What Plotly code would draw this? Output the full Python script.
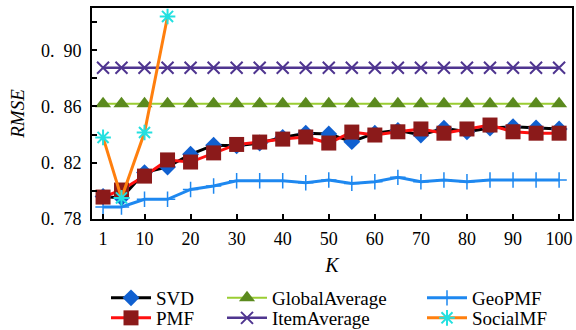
import plotly.graph_objects as go

K = [1, 5, 10, 15, 20, 25, 30, 35, 40, 45, 50, 55, 60, 65, 70, 75, 80, 85, 90, 95, 100]

svd = [0.796, 0.795, 0.813, 0.817, 0.826, 0.8325, 0.832, 0.834, 0.838, 0.841, 0.8405,
       0.835, 0.841, 0.843, 0.8397, 0.8445, 0.842, 0.8447, 0.8456, 0.8447, 0.844]
pmf = [0.7956, 0.8006, 0.8105, 0.822, 0.8205, 0.827, 0.833, 0.8347, 0.8368, 0.8383, 0.834,
       0.8418, 0.8397, 0.842, 0.844, 0.841, 0.844, 0.8468, 0.842, 0.841, 0.841]
global_avg = [0.862] * len(K)
item_avg = [0.8875] * len(K)
geopmf = [0.7885, 0.7885, 0.794, 0.794, 0.801, 0.8035, 0.8072, 0.8072, 0.8072, 0.8058, 0.8077,
          0.8053, 0.8065, 0.8096, 0.8065, 0.8077, 0.8065, 0.8077, 0.8077, 0.8077, 0.8077]
social_k = [1, 5, 10, 15]
socialmf = [0.838, 0.795, 0.8415, 0.924]

y_tickvals = [0.78, 0.80, 0.82, 0.84, 0.86, 0.88, 0.90, 0.92]
y_ticktext = ["0.\u200278", "", "0.\u200282", "", "0.\u200286", "", "0.\u200290", ""]
x_tickvals = [1, 10, 20, 30, 40, 50, 60, 70, 80, 90, 100]

FONT = "Liberation Serif"

fig = go.Figure()

fig.add_trace(go.Scatter(
    x=K, y=global_avg, name="GlobalAverage", mode="lines+markers", legend="legend2",
    line=dict(color="#9acd32", width=2),
    marker=dict(symbol="triangle-up", size=14, color="#5b8a1e")))
fig.add_trace(go.Scatter(
    x=K, y=item_avg, name="ItemAverage", mode="lines+markers", legend="legend5",
    line=dict(color="#4f3590", width=2.5),
    marker=dict(symbol="x-thin", size=12, line=dict(color="#4f3590", width=2))))
fig.add_trace(go.Scatter(
    x=K, y=geopmf, name="GeoPMF", mode="lines+markers", legend="legend3",
    line=dict(color="#1e88f0", width=3),
    marker=dict(symbol="cross-thin", size=11, line=dict(color="#1e88f0", width=1.5))))
fig.add_trace(go.Scatter(
    x=K, y=svd, name="SVD", mode="lines+markers", legend="legend",
    line=dict(color="black", width=3),
    marker=dict(symbol="diamond", size=13, color="#1060d0")))
fig.add_trace(go.Scatter(
    x=K, y=pmf, name="PMF", mode="lines+markers", legend="legend4",
    line=dict(color="#ff1010", width=3),
    marker=dict(symbol="square", size=15, color="#8b1a1a")))
fig.add_trace(go.Scatter(
    x=social_k, y=socialmf, name="SocialMF", mode="lines+markers", legend="legend6",
    line=dict(color="#ff7f0e", width=3),
    marker=dict(symbol="asterisk", size=13, line=dict(color="#22e0e0", width=2))))


def px_x(px):
    return (px - 92) / 480.0


def px_y(px):
    return (219 - px) / 211.0


row1_top = 279
row2_top = 299
cols = [106, 222, 422]
leg_common = dict(font=dict(family=FONT, size=19, color="black"), bgcolor="rgba(0,0,0,0)",
                  borderwidth=0, xanchor="left", yanchor="top", orientation="v", itemwidth=40)

fig.update_layout(
    width=576, height=330,
    margin=dict(l=92, r=4, t=8, b=111, autoexpand=False),
    paper_bgcolor="white", plot_bgcolor="white",
    font=dict(family=FONT, size=18, color="black"),
    showlegend=True,
    legend=dict(x=px_x(cols[0]), y=px_y(row1_top), **leg_common),
    legend4=dict(x=px_x(cols[0]), y=px_y(row2_top), **leg_common),
    legend2=dict(x=px_x(cols[1]), y=px_y(row1_top), **leg_common),
    legend5=dict(x=px_x(cols[1]), y=px_y(row2_top), **leg_common),
    legend3=dict(x=px_x(cols[2]), y=px_y(row1_top), **leg_common),
    legend6=dict(x=px_x(cols[2]), y=px_y(row2_top), **leg_common),
    xaxis=dict(
        range=[-1.4, 102.8], tickvals=x_tickvals, ticks="inside", ticklen=5, tickwidth=1.5,
        tickcolor="black", showline=True, linecolor="black", linewidth=2, mirror=True,
        showgrid=False, zeroline=False, ticklabelstandoff=2, ticklabeloverflow="allow",
        automargin=False,
        tickfont=dict(family=FONT, size=18, color="black"),
        title=dict(text="<i>K</i>", font=dict(family=FONT, size=20, color="black"), standoff=10)),
    yaxis=dict(
        range=[0.78, 0.93], tickvals=y_tickvals, ticktext=y_ticktext, ticks="inside", ticklen=5,
        tickwidth=1.5, tickcolor="black", showline=True, linecolor="black", linewidth=2,
        mirror=True, showgrid=False, zeroline=False, ticklabelstandoff=5, automargin=False,
        tickfont=dict(family=FONT, size=18, color="black"),
        title=dict(text="<i>RMSE</i>", font=dict(family=FONT, size=19, color="black"), standoff=11)),
)

fig.write_html(
    "out.html",
    config={"displayModeBar": False},
    post_script="document.body.style.margin='0';document.body.style.padding='0';",
)
